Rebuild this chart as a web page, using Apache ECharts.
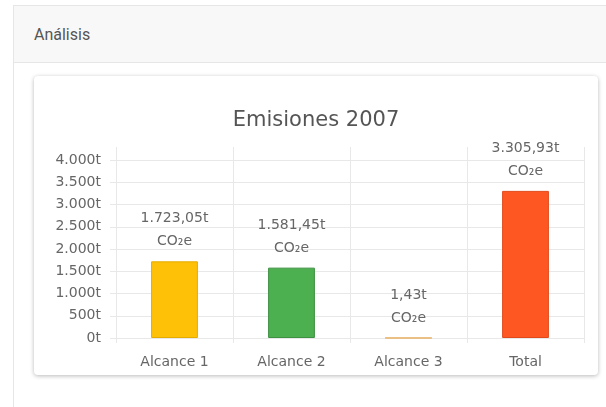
<!DOCTYPE html>
<html>
<head>
<meta charset="utf-8">
<script src="https://cdn.jsdelivr.net/npm/echarts@6/dist/echarts.min.js"></script>
<style>
  body { margin: 0; background: #fff; font-family: Roboto, "DejaVu Sans", sans-serif; }
  .panel { position: absolute; left: 13px; top: 5px; width: 700px; height: 500px; border: 1px solid #e6e6e6; background: #fff; }
  .panel-head { height: 56px; background: #f8f8f8; border-bottom: 1px solid #e6e6e6; }
  .panel-head span { position: absolute; left: 20px; top: 19px; font-size: 16px; color: #555; }
  .card { position: absolute; left: 34px; top: 76px; width: 564px; height: 299px; background: #fff; border-radius: 4px; box-shadow: 0 1px 4px rgba(0,0,0,0.28); }
  #chart { position: absolute; left: 34px; top: 76px; width: 564px; height: 299px; }
</style>
</head>
<body>
<div class="panel"><div class="panel-head"><span>Análisis</span></div></div>
<div class="card"></div>
<div id="chart"></div>
<script>
// datos de emisiones (t CO2e)
var categories = ['Alcance 1', 'Alcance 2', 'Alcance 3', 'Total'];
var emisiones = [1723.05, 1581.45, 1.43, 3305.93];
var barColors = [
  ['#FFC107', '#E5AC00'],
  ['#4CAF50', '#3E9142'],
  ['#FF9800', '#E8B060'],
  ['#FF5722', '#E04A1A']
];

function fmtEs(v, dec) {
  var parts = v.toFixed(dec).split('.');
  parts[0] = parts[0].replace(/\B(?=(\d{3})+(?!\d))/g, '.');
  return parts.join(',');
}

var gridColor = '#e8e8e8';
var txtColor = '#666';
var fontFam = '"DejaVu Sans", sans-serif';

var myChart = echarts.init(document.getElementById('chart'));
var option = {
  animation: false,
  title: {
    text: 'Emisiones 2007',
    left: 'center',
    top: 29,
    textStyle: { fontSize: 21, fontWeight: 'normal', color: '#555', fontFamily: fontFam }
  },
  grid: { left: 82, right: 14, top: 84, bottom: 37 },
  xAxis: [
    {
      type: 'category',
      data: categories,
      boundaryGap: true,
      axisLine: { show: true, lineStyle: { color: gridColor } },
      axisTick: { show: true, length: 5, lineStyle: { color: gridColor } },
      splitLine: { show: true, lineStyle: { color: gridColor } },
      axisLabel: { color: txtColor, fontSize: 14, margin: 17, fontFamily: fontFam }
    },
    {
      type: 'category',
      position: 'top',
      data: categories,
      boundaryGap: true,
      axisLine: { show: false },
      axisTick: { show: true, length: 13, lineStyle: { color: gridColor } },
      axisLabel: { show: false }
    }
  ],
  yAxis: {
    type: 'value',
    min: 0,
    max: 4000,
    interval: 500,
    axisLine: { show: true, lineStyle: { color: gridColor } },
    axisTick: { show: true, length: 6, lineStyle: { color: gridColor } },
    splitLine: { show: true, lineStyle: { color: gridColor } },
    axisLabel: {
      color: txtColor, fontSize: 14, margin: 15, fontFamily: fontFam,
      formatter: function (v) { return fmtEs(v, 0) + 't'; }
    }
  },
  series: [{
    type: 'bar',
    barWidth: '40%',
    data: emisiones.map(function (v, i) {
      return {
        value: v,
        itemStyle: { color: barColors[i][0], borderColor: barColors[i][1], borderWidth: 1 }
      };
    }),
    label: {
      show: true,
      position: 'top',
      distance: 8,
      color: '#666',
      fontSize: 14,
      lineHeight: 23,
      fontFamily: fontFam,
      formatter: function (p) { return fmtEs(p.value, 2) + 't\nCO₂e'; }
    }
  }]
};
myChart.setOption(option);
</script>
</body>
</html>
